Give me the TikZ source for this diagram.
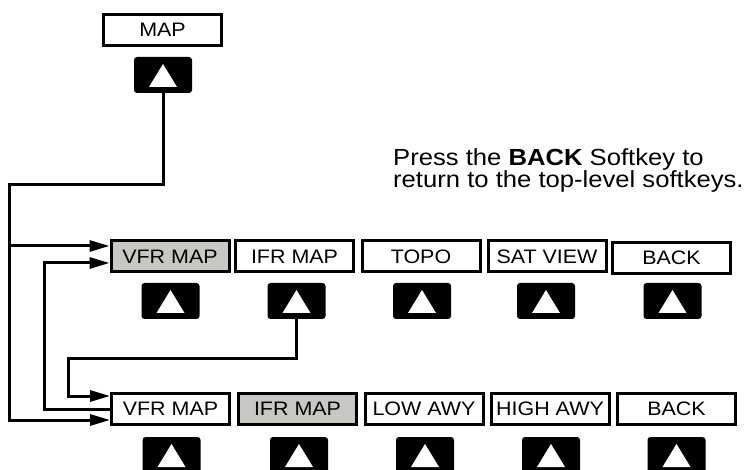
\documentclass[tikz,border=0pt]{standalone}
\usepackage{fontspec}
\setmainfont{Liberation Sans}[FakeStretch=1.1]
\usepackage{tikz}
\usetikzlibrary{arrows.meta}

\definecolor{keygray}{RGB}{200,200,195}

\tikzset{
	softlabel/.style={draw, line width=3pt, minimum width=118pt, minimum height=31pt,
		inner sep=0pt, font=\fontsize{19.5}{19.5}\selectfont},
	active/.style={fill=keygray},
	softkey/.style={fill=black, rounded corners=3pt, minimum width=58pt, minimum height=36pt,
		inner sep=0pt, path picture={
			\fill[white, sharp corners] ([xshift=-14pt,yshift=-12pt]path picture bounding box.center)
				-- ([xshift=14pt,yshift=-12pt]path picture bounding box.center)
				-- ([yshift=11pt]path picture bounding box.center) -- cycle;}},
	flow/.style={line width=3pt, -{Triangle[length=20pt,width=11pt]}}
}

\begin{document}
\begin{tikzpicture}[x=1pt,y=-1pt]
		\useasboundingbox (0,0) rectangle (747,470);

		\node[softlabel] (mapbox) at (162.5,30) {MAP};
		\node[softkey] (mapkey) at (163,75) {};

		% top-level map softkeys
		\node[softlabel,active] (vfrA) at (170,256.5) {VFR MAP};
		\node[softlabel] (ifrA) at (294.5,256.5) {IFR MAP};
		\node[softlabel] (topoA) at (421,256.5) {TOPO};
		\node[softlabel] (satA) at (547,256.5) {SAT VIEW};
		\node[softlabel] (backA) at (671.5,258) {BACK};
		\node[softkey] (vfrAkey) at (170.5,301) {};
		\node[softkey] (ifrAkey) at (296.5,301) {};
		\node[softkey] (topoAkey) at (422,301) {};
		\node[softkey] (satAkey) at (546,301) {};
		\node[softkey] (backAkey) at (672.5,301) {};

		% IFR map softkeys
		\node[softlabel] (vfrB) at (170.5,409) {VFR MAP};
		\node[softlabel,active] (ifrB) at (297.5,409) {IFR MAP};
		\node[softlabel] (lowB) at (424,409) {LOW AWY};
		\node[softlabel] (highB) at (550,409) {HIGH AWY};
		\node[softlabel] (backB) at (676.5,409) {BACK};
		\node[softkey] (vfrBkey) at (171.5,455) {};
		\node[softkey] (ifrBkey) at (299,455) {};
		\node[softkey] (lowBkey) at (425,455) {};
		\node[softkey] (highBkey) at (551,455) {};
		\node[softkey] (backBkey) at (676.5,455) {};

		\node[anchor=north west, align=left, inner sep=0pt, font=\fontsize{23.3}{21}\selectfont] (hint)
			at (393,148) {Press the \textbf{BACK} Softkey to\\return to the top-level softkeys.};

		\coordinate (bendmap) at (9,185);
		\coordinate (bendback) at (44,263);
		\coordinate (bendifr) at (68,358);

		\draw[flow] (mapkey.south) |- (bendmap) |- ([yshift=-11pt]vfrB.west);
		\draw[flow] (bendmap) |- ([yshift=10.5pt]vfrA.west);
		\draw[flow] (vfrB.west) -| (bendback) -- ([yshift=-6.5pt]vfrA.west);
		\draw[flow] (ifrAkey.south) |- (bendifr) |- ([yshift=13pt]vfrB.west);
	\end{tikzpicture}
\end{document}
